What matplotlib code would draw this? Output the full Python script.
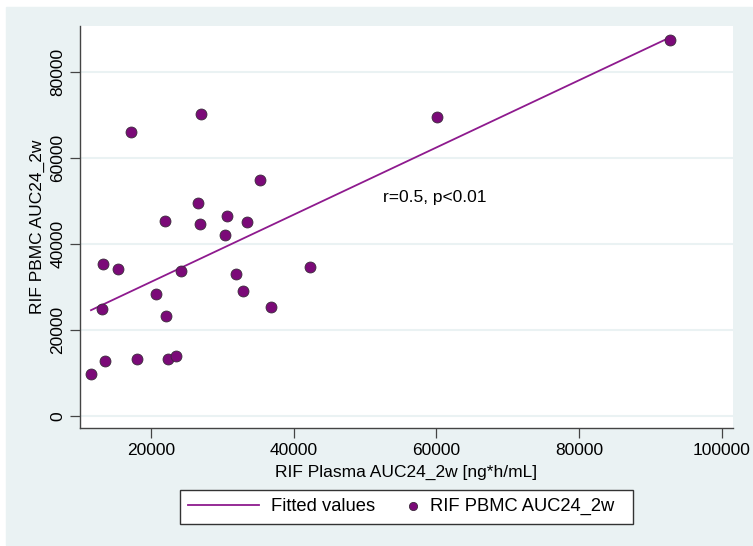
import numpy as np
import matplotlib.pyplot as plt
from matplotlib.patches import Rectangle
from matplotlib.legend_handler import HandlerPathCollection

plt.rcParams['font.family'] = ['Liberation Sans', 'DejaVu Sans']

# RIF plasma AUC24 (x) vs RIF PBMC AUC24 (y)
plasma = [92740, 60080, 17240, 27050, 35230, 26630, 21960, 26870, 30650, 33450,
          30330, 13230, 15370, 24250, 31950, 42330, 32940, 20740, 36860, 13170,
          22100, 13590, 18000, 22420, 23500, 11590]
pbmc = [87340, 69460, 65900, 70230, 54900, 49400, 45230, 44530, 46530, 45070,
        41970, 35240, 34150, 33610, 32910, 34690, 28970, 28410, 25250, 24790,
        23160, 12780, 13310, 13310, 13870, 9830]
xticks = [20000, 40000, 60000, 80000, 100000]
yticks = [0, 20000, 40000, 60000, 80000]
note = "r=0.5, p<0.01"


class RightMarker(HandlerPathCollection):
    # stata puts the legend dot right before its label
    def get_xdata(self, legend, xdescent, ydescent, width, height, fontsize):
        xm = [width - 0.24 * fontsize]
        return xm, xm


W, H = 753, 546
fig = plt.figure(figsize=(W / 100, H / 100), dpi=100)
fig.patches.append(Rectangle((6 / W, 1 - 545 / H), 746 / W, 538 / H,
                             transform=fig.transFigure, color='#eaf2f3', zorder=-10))

ax = fig.add_axes([80 / W, 1 - 428 / H, 653 / W, 402 / H])
ax.set_facecolor('white')

x = np.array(plasma)
y = np.array(pbmc)
b, a = np.polyfit(x, y, 1)
xf = np.array([x.min(), x.max()])

purple = '#8e1a8e'
ax.plot(xf, a + b * xf, color=purple, lw=1.3, label='Fitted values', zorder=3)
sc = ax.scatter(x, y, s=62, color='#7b0a78', edgecolor='#3a2a3a', linewidth=0.6,
                label='RIF PBMC AUC24_2w  ', zorder=4)

ax.text(52500, 50800, note, fontsize=12.5, va='center', ha='left')

ax.set_xlim(10050, 101570)
ax.set_ylim(-2790, 90590)
ax.set_xticks(xticks)
ax.set_yticks(yticks)
ax.tick_params(labelsize=12.5, length=7, width=0.9, color='#444444')
plt.setp(ax.get_yticklabels(), rotation=90, va='center')
ax.grid(axis='y', color='#eaf2f3', lw=1.5)
ax.set_axisbelow(True)
for s in ['top', 'right']:
    ax.spines[s].set_visible(False)
for s in ['left', 'bottom']:
    ax.spines[s].set_color('#444444')
    ax.spines[s].set_linewidth(1.0)

ax.set_xlabel('RIF Plasma AUC24_2w [ng*h/mL]', fontsize=12.5, labelpad=5)
ax.set_ylabel('RIF PBMC AUC24_2w', fontsize=12.5, labelpad=4)

leg = ax.legend(loc='center', bbox_to_anchor=(0.5, -0.1958), ncols=2, fontsize=13.2,
                frameon=True, fancybox=False, edgecolor='#333333', framealpha=1,
                handlelength=3.84, handletextpad=0.67, columnspacing=-1.51,
                markerscale=0.75, borderpad=0.45,
                handler_map={sc: RightMarker()})
leg.get_frame().set_linewidth(1.0)

fig.savefig('out.png', dpi=100, facecolor='white')
